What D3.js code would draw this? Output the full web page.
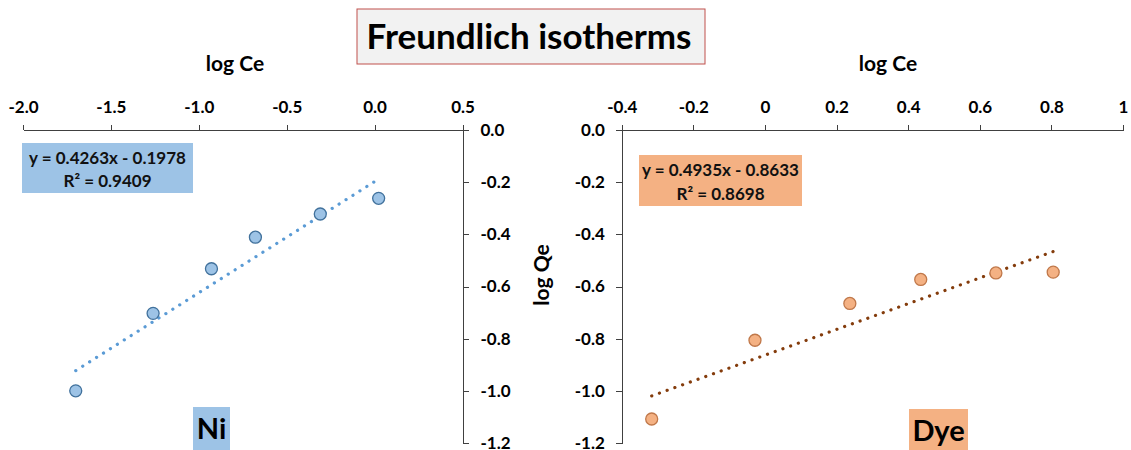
<!DOCTYPE html>
<html>
<head>
<meta charset="utf-8">
<script src="https://cdn.jsdelivr.net/npm/d3@7"></script>
<style>
  html, body { margin: 0; padding: 0; background: #fff; }
  svg { display: block; font-family: Lato, "Open Sans", sans-serif; font-weight: bold; }
  .axis path, .axis line { stroke: #404040; stroke-width: 1; shape-rendering: crispEdges; }
  .axis text { font-family: Lato, "Open Sans", sans-serif; font-weight: bold; font-size: 17px; fill: #000; }
</style>
</head>
<body>
<svg id="chart" width="1131" height="450"></svg>
<script>
// Freundlich isotherm data: log Ce vs log Qe
const niLogCe = [-1.70, -1.26, -0.928, -0.678, -0.309, 0.023];
const niLogQe = [-1.00, -0.703, -0.532, -0.411, -0.322, -0.262];
const niFit = { slope: 0.4263, intercept: -0.1978, r2: 0.9409 };

const dyeLogCe = [-0.3165, -0.028, 0.237, 0.435, 0.645, 0.805];
const dyeLogQe = [-1.108, -0.806, -0.665, -0.573, -0.548, -0.545];
const dyeFit = { slope: 0.4935, intercept: -0.8633, r2: 0.8698 };

const niXTicks = [-2.0, -1.5, -1.0, -0.5, 0.0, 0.5];
const dyeXTicks = [-0.4, -0.2, 0, 0.2, 0.4, 0.6, 0.8, 1];
const yTicks = [0.0, -0.2, -0.4, -0.6, -0.8, -1.0, -1.2];

const hyphen = s => s.replace("\u2212", "-");
const fmt1 = d => hyphen(d3.format(".1f")(d));
const fmtShort = d => (d === 0 || d === 1) ? String(d) : hyphen(d3.format(".1f")(d));

const svg = d3.select("#chart");

// Title
svg.append("rect").attr("x", 357).attr("y", 9).attr("width", 348).attr("height", 55)
  .attr("fill", "#f2f2f2").attr("stroke", "#c0504d").attr("stroke-width", 1);
svg.append("text").attr("x", 529).attr("y", 49).attr("text-anchor", "middle")
  .attr("font-size", 35).attr("fill", "#000").text("Freundlich isotherms");

function panel(opts) {
  const g = svg.append("g");
  const x = d3.scaleLinear().domain(opts.xDomain).range(opts.xRange);
  const y = d3.scaleLinear().domain([0, -1.2]).range([130, 443]);

  // top x axis
  g.append("g").attr("class", "axis").attr("transform", `translate(0,${y(0)})`)
    .call(d3.axisTop(x).tickValues(opts.xTicks).tickFormat(opts.xFormat)
      .tickSize(5).tickSizeOuter(0).tickPadding(12));

  // vertical axis
  const yAxis = opts.yOrient === "right"
    ? d3.axisRight(y).tickPadding(12)
    : d3.axisLeft(y).tickPadding(11);
  g.append("g").attr("class", "axis").attr("transform", `translate(${opts.yAxisAt},0)`)
    .call(yAxis.tickValues(yTicks).tickFormat(fmt1).tickSize(6).tickSizeOuter(0));

  // x axis title
  g.append("text").attr("x", opts.xTitleX).attr("y", 71).attr("text-anchor", "middle")
    .attr("font-size", 21).attr("fill", "#000").text("log Ce");

  // trendline from fitted equation
  const xs = d3.extent(opts.xs);
  const fitPts = xs.map(v => [x(v), y(opts.fit.slope * v + opts.fit.intercept)]);
  g.append("path").attr("d", d3.line()(fitPts))
    .attr("fill", "none").attr("stroke", opts.lineColor).attr("stroke-width", 3.2)
    .attr("stroke-linecap", "round").attr("stroke-dasharray", "0.1 8.1");

  // points
  g.selectAll("circle").data(opts.xs.map((v, i) => [v, opts.ys[i]])).join("circle")
    .attr("cx", d => x(d[0])).attr("cy", d => y(d[1])).attr("r", 6)
    .attr("fill", opts.fill).attr("stroke", opts.stroke).attr("stroke-width", 1.3);

  // equation label
  const b = opts.eqBox;
  g.append("rect").attr("x", b.x).attr("y", b.y).attr("width", b.w).attr("height", b.h)
    .attr("fill", opts.fill);
  const eq = `y = ${opts.fit.slope}x - ${Math.abs(opts.fit.intercept)}`;
  g.append("text").attr("x", b.x + b.w / 2).attr("y", b.y + 21).attr("text-anchor", "middle")
    .attr("font-size", 17).attr("fill", "#111").text(eq);
  g.append("text").attr("x", b.x + b.w / 2).attr("y", b.y + b.line2).attr("text-anchor", "middle")
    .attr("font-size", 17).attr("fill", "#111").text(`R\u00B2 = ${opts.fit.r2}`);

  // series name tag
  const t = opts.tag;
  g.append("rect").attr("x", t.x).attr("y", t.y).attr("width", t.w).attr("height", 45)
    .attr("fill", opts.fill);
  g.append("text").attr("x", t.x + t.w / 2).attr("y", t.y + 32).attr("text-anchor", "middle")
    .attr("font-size", 29).attr("fill", "#000").text(t.text);
}

panel({
  xDomain: [-2, 0.5], xRange: [23, 462.5], xTicks: niXTicks, xFormat: fmt1,
  yAxisAt: 462.5, yOrient: "right", xTitleX: 235,
  xs: niLogCe, ys: niLogQe, fit: niFit,
  fill: "#9dc3e6", stroke: "#41719c", lineColor: "#5b9bd5",
  eqBox: { x: 22, y: 143, w: 171, h: 50, line2: 44 },
  tag: { x: 193, y: 407, w: 37, text: "Ni" }
});

panel({
  xDomain: [-0.4, 1], xRange: [621.8, 1123], xTicks: dyeXTicks, xFormat: fmtShort,
  yAxisAt: 621.8, yOrient: "left", xTitleX: 888,
  xs: dyeLogCe, ys: dyeLogQe, fit: dyeFit,
  fill: "#f4b183", stroke: "#c0784a", lineColor: "#843c0c",
  eqBox: { x: 639, y: 155, w: 163, h: 51, line2: 45 },
  tag: { x: 909, y: 409, w: 59, text: "Dye" }
});

// shared y axis title
svg.append("text").attr("transform", "translate(549,275) rotate(-90)")
  .attr("text-anchor", "middle").attr("font-size", 21).attr("fill", "#000").text("log Qe");
</script>
</body>
</html>
